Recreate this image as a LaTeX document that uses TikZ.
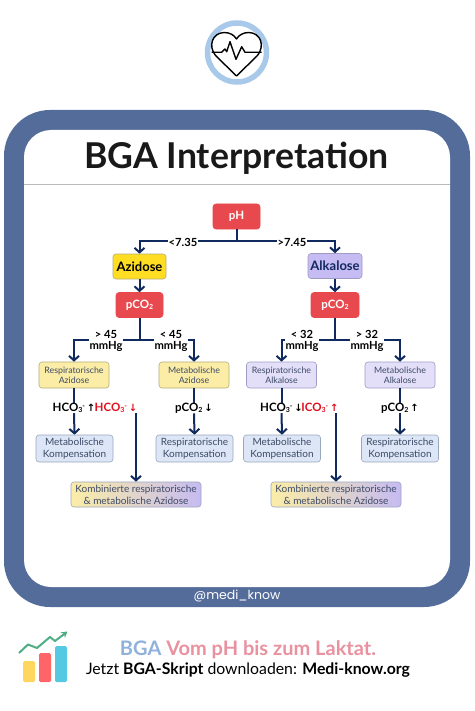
\documentclass[tikz,border=0pt]{standalone}
\usepackage{fontspec}
\setmainfont{Lato}
\newfontfamily\arrfont{DejaVu Sans}
\newfontfamily\popfont{Poppins}
\usetikzlibrary{arrows.meta}
\definecolor{frameblue}{HTML}{546C9A}
\definecolor{navy}{HTML}{10295F}
\definecolor{redbox}{HTML}{E8494E}
\definecolor{goldbox}{HTML}{FFDD22}
\definecolor{violetbox}{HTML}{C6BBF2}
\definecolor{yellowsoft}{HTML}{FBEDA6}
\definecolor{violetsoft}{HTML}{E3DFF9}
\definecolor{bluesoft}{HTML}{DCE6F6}
\definecolor{softtext}{HTML}{3D4A66}
\definecolor{ringblue}{HTML}{A9C9EA}
\definecolor{footblue}{HTML}{8FB1DB}
\definecolor{footpink}{HTML}{E9919F}
\definecolor{redtext}{HTML}{E0101E}
\definecolor{edgeyellow}{HTML}{B5AD78}
\definecolor{edgeviolet}{HTML}{9F9CC4}
\definecolor{edgeblue}{HTML}{9AA8BE}
\definecolor{baryellow}{HTML}{FFD65E}
\definecolor{barred}{HTML}{FF6468}
\definecolor{barblue}{HTML}{55C8E2}
\definecolor{chartgreen}{HTML}{4FAE84}
\definecolor{midblend}{HTML}{F1E6EA}
\newcommand{\fsz}[1]{\fontsize{#1}{#1}\selectfont}
\newcommand{\subthree}{\raisebox{-1.6pt}{\fontsize{7}{7}\selectfont 3}}
\newcommand{\suptwo}{\raisebox{-1.3pt}{\fontsize{7}{7}\selectfont 2}}
\newcommand{\supminus}{\raisebox{3pt}{\fontsize{7}{7}\selectfont -}}
\newcommand{\arrup}{{\arrfont\fontsize{10}{10}\selectfont ↑}}
\newcommand{\arrdown}{{\arrfont\fontsize{10}{10}\selectfont ↓}}
\tikzset{
  x=1pt,y=-1pt,
  box/.style={draw,rounded corners=3pt,line width=0.6pt,align=center,inner sep=0pt,text centered},
  redbx/.style={box,draw=redbox,fill=redbox,text=white,font=\bfseries\fsz{11.5}},
  azibx/.style={box,draw=edgeyellow,fill=goldbox,minimum width=53pt,minimum height=25pt,font=\bfseries\fsz{13}},
  alkbx/.style={box,draw=edgeviolet,fill=violetbox,text=navy,minimum width=54pt,minimum height=25pt,font=\bfseries\fsz{13}},
  diagy/.style={box,draw=edgeyellow,fill=yellowsoft,text=softtext,minimum width=70pt,minimum height=26pt,font=\fsz{8.8}},
  diagv/.style={box,draw=edgeviolet,fill=violetsoft,text=softtext,minimum width=70pt,minimum height=26pt,font=\fsz{8.8}},
  komp/.style={box,draw=edgeblue,fill=bluesoft,text=softtext,minimum width=77pt,minimum height=27pt,font=\fsz{10}},
  kombi/.style={box,draw=edgeblue,left color=yellowsoft,middle color=midblend,right color=violetbox,text=softtext,minimum width=130pt,minimum height=25pt,font=\fsz{10}},
  lab/.style={fill=white,inner sep=1pt,align=center,font=\bfseries\fsz{11.2},text=black},
  twolab/.style={lab,inner sep=0.5pt},
  hlab/.style={inner sep=0pt,font=\bfseries\fsz{11.5},text=black},
  rlab/.style={hlab,text=redtext},
  conn/.style={draw=navy,line width=2pt},
  arr/.style={conn,-{Straight Barb[length=4.5pt,width=10pt,line width=2pt]}},
}
\begin{document}
\begin{tikzpicture}
\useasboundingbox (0,0) rectangle (474,711);
\fill[white] (0,0) rectangle (474,711);
% logo
\fill[white] (237,52.5) circle (29);
\draw[ringblue,line width=5.5pt] (237,52.5) circle (29.5);
\draw[black,line width=1.4pt,line join=round]
  (236.5,76) -- (215.5,55.5) .. controls (208,46) and (212,33) .. (224,32.5)
  .. controls (230,32.5) and (234,35) .. (236.5,39)
  .. controls (239,35) and (243,32.5) .. (249,32.5)
  .. controls (261,33) and (265,46) .. (257.5,55.5) -- cycle;
\draw[black,line width=1.4pt,line join=round]
  (211.5,52.3) -- (221.5,52.3) -- (225,49) -- (226.7,51.7) -- (230,41.7) -- (236,59.3) -- (241.7,46.7) -- (245,52.3) -- (261.7,52.3);
% frame
\fill[frameblue,rounded corners=46pt] (4,110) rectangle (470,607);
\fill[white,rounded corners=27pt] (24,130) rectangle (450,587);
\draw[gray!55,line width=1pt] (24,185) -- (450,185);
\node (title) at (236.5,158) [inner sep=0pt,text=black!90,font=\bfseries\fsz{35.6}] {BGA Interpretation};
\node (handle) at (237,596) [inner sep=0pt,text=white,font=\popfont\fsz{12.5}] {@medi\_know};
% nodes
\node[redbx,minimum width=47pt,minimum height=25pt] (ph) at (236.5,216.5) {pH};
\node[azibx] (azi) at (139.5,266.5) {Azidose};
\node[alkbx] (alk) at (335,266) {Alkalose};
\node[redbx,minimum width=47pt,minimum height=25pt] (pl) at (139.5,305) {pCO\suptwo};
\node[redbx,minimum width=48pt,minimum height=25pt] (pr) at (335,305) {pCO\suptwo};
\node[diagy] (ra) at (74,375) {Respiratorische\\[1.5pt]Azidose};
\node[diagy] (ma) at (194,375) {Metabolische\\[1.5pt]Azidose};
\node[diagv] (rk) at (281.5,375) {Respiratorische\\[1.5pt]Alkalose};
\node[diagv] (mk) at (400,375) {Metabolische\\[1.5pt]Alkalose};
\node[komp] (k1) at (74.5,448.5) {Metabolische\\[2pt]Kompensation};
\node[komp] (k2) at (194.5,448.5) {Respiratorische\\[2pt]Kompensation};
\node[komp] (k3) at (282,448.5) {Metabolische\\[2pt]Kompensation};
\node[komp] (k4) at (400,448.5) {Respiratorische\\[2pt]Kompensation};
\node[kombi] (kl) at (136,494.5) {Kombinierte respiratorische\\[2pt]\& metabolische Azidose};
\node[kombi] (kr) at (336,494.5) {Kombinierte respiratorische\\[2pt]\& metabolische Azidose};
% named junctions
\coordinate (jph) at (236.5,241);
\coordinate (jl) at (139.5,340);
\coordinate (jr) at (335,340);
% labels of the middle row
\node[hlab] (h1) at (74,408) {HCO\subthree\supminus\,\arrup};
\node[rlab] (h2) at (116,408) {HCO\subthree\supminus\,\arrdown};
\node[hlab] (h3) at (194,408) {pCO\suptwo\,\arrdown};
\node[hlab] (h4) at (281.5,408) {HCO\subthree\supminus\,\arrdown};
\node[rlab] (h5) at (320,408) {ICO\subthree\supminus\,\arrup};
\node[hlab] (h6) at (400,408) {pCO\suptwo\,\arrup};
% connectors
\draw[conn] (ph.south) -- (jph);
\draw[arr] (jph) -| (azi.north);
\draw[arr] (jph) -| (alk.north);
\draw[arr] (azi.south) -- (pl.north);
\draw[arr] (alk.south) -- (pr.north);
\draw[conn] (pl.south) -- (jl);
\draw[conn] (pr.south) -- (jr);
\draw[arr] (jl) -| (ra.north);
\draw[arr] (jl) -| (ma.north);
\draw[arr] (jr) -| (rk.north);
\draw[arr] (jr) -| (mk.north);
\draw[conn] (ra.south) -- (h1.north);
\draw[conn] (ma.south) -- (h3.north);
\draw[conn] (rk.south) -- (h4.north);
\draw[conn] (mk.south) -- (h6.north);
\draw[arr] (h1.south) -- (k1.north);
\draw[arr] (h3.south) -- (k2.north);
\draw[arr] (h4.south) -- (k3.north);
\draw[arr] (h6.south) -- (k4.north);
\draw[arr] (kl.north |- h2.south) -- (kl.north);
\draw[arr] (kr.north |- h5.south) -- (kr.north);
% connector labels
\node[lab] (l1) at (183,242) {<7.35};
\node[lab] (l2) at (292,242) {>7.45};
\node[twolab] (l3) at (106,341) {> 45\\[-0.5pt]mmHg};
\node[twolab] (l4) at (171,341) {< 45\\[-0.5pt]mmHg};
\node[twolab] (l5) at (302,341) {< 32\\[-0.5pt]mmHg};
\node[twolab] (l6) at (367,341) {> 32\\[-0.5pt]mmHg};
% chart icon
\fill[baryellow,rounded corners=1.5pt] (23,661) rectangle (35,682);
\fill[barred,rounded corners=1.5pt] (39,653) rectangle (51,682);
\fill[barblue,rounded corners=1.5pt] (55,646) rectangle (67,682);
\draw[chartgreen,line width=2pt,line join=round,-{Stealth[length=6pt,width=7pt]}]
  (19,653) -- (28,644.5) -- (37,648) -- (50,637) -- (55,641) -- (67.5,631.5);
% footer
\node (f1) at (248,650) [inner sep=0pt,font=\bfseries\fsz{20}] {\textcolor{footblue}{BGA} \textcolor{footpink}{Vom pH bis zum Laktat.}};
\node (f2) at (248,670) [inner sep=0pt,text=black,font=\fsz{15.8}] {Jetzt \textbf{BGA-Skript} downloaden: \textbf{Medi-know.org}};
\end{tikzpicture}
\end{document}
